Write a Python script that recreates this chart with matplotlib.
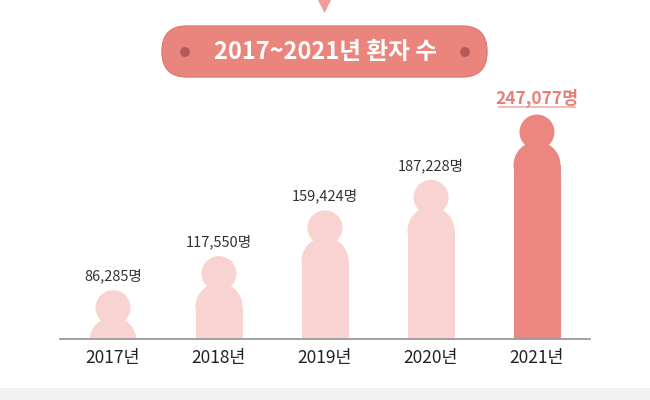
import matplotlib
matplotlib.use("Agg")
import matplotlib.pyplot as plt
from matplotlib.patches import FancyBboxPatch, Polygon, Circle, Rectangle
from matplotlib.transforms import ScaledTranslation

plt.rcParams['font.family'] = ['Noto Sans CJK KR', 'DejaVu Sans']

title = "2017~2021년 환자 수"
years = ["2017년", "2018년", "2019년", "2020년", "2021년"]
patients = [86285, 117550, 159424, 187228, 247077]
value_labels = ["86,285명", "117,550명", "159,424명", "187,228명", "247,077명"]

light = '#f9d3d1'
dark = '#ec8680'

fig = plt.figure(figsize=(6.5, 4), dpi=100)
fig.patch.set_facecolor('white')

# bottom grey strip
fig.add_artist(Rectangle((0, 0), 1, 12 / 400, transform=fig.transFigure,
                         facecolor='#f2f2f2', edgecolor='none'))

# small arrow at the top
fig.add_artist(Polygon([(318 / 650, 1), (331 / 650, 1), (324.5 / 650, 1 - 13 / 400)],
                       closed=True, transform=fig.transFigure,
                       facecolor='#f09d96', edgecolor='none'))

# title pill (pixel coords)
pill = FancyBboxPatch((162, 400 - 77), 325, 51,
                      boxstyle="round,pad=0,rounding_size=25",
                      transform=None, facecolor='#ea857e', edgecolor='#e07a74', lw=1)
fig.add_artist(pill)
for cx in (185, 465):
    fig.add_artist(Circle((cx, 400 - 52), 5, transform=None,
                          facecolor='#b55a58', edgecolor='none'))
fig.text(325 / 650, 1 - 52 / 400, title, ha='center', va='center',
         color='white', fontsize=17, fontweight='bold')

ax = fig.add_axes([60 / 650, 61 / 400, 530 / 650, 239 / 400])
ax.set_xlim(-0.5, 4.5)
ax.set_ylim(41600, 260400)
ax.set_facecolor('none')

colors = [light] * 4 + [dark]
x = list(range(len(years)))
dpi = fig.dpi
head_off = ax.transData + ScaledTranslation(0, -17.5 / dpi, fig.dpi_scale_trans)
body_off = ax.transData + ScaledTranslation(0, -50.5 / dpi, fig.dpi_scale_trans)
neck_off = ax.transData + ScaledTranslation(0, -33 / dpi, fig.dpi_scale_trans)

# body: bar + rounded shoulders
ax.bar(x, [v - 41600 + 100000 for v in patients], bottom=41600 - 100000,
       width=47 / 106, color=colors, transform=body_off, zorder=2)
ax.scatter(x, patients, s=(47 * 72 / dpi) ** 2, c=colors, linewidths=0,
           transform=body_off, zorder=2)
# neck fill
ax.scatter(x, patients, s=(24 * 72 / dpi) ** 2, c=colors, linewidths=0,
           marker='s', transform=neck_off, zorder=2)
# head
ax.scatter(x, patients, s=(35 * 72 / dpi) ** 2, c=colors, linewidths=0,
           transform=head_off, zorder=3)

for i, (v, lab) in enumerate(zip(patients, value_labels)):
    if i == len(patients) - 1:
        ax.annotate(lab, (i, v), xytext=(0, 17 * 72 / dpi), textcoords='offset points',
                    ha='center', va='center', fontsize=12.5, fontweight='bold',
                    color='#e8807a', annotation_clip=False)
        line_off = ax.transData + ScaledTranslation(0, 8 / dpi, fig.dpi_scale_trans)
        ax.plot([i - 0.36, i + 0.36], [v, v], color='#f5bcb7', lw=1.5,
                transform=line_off, clip_on=False)
    else:
        ax.annotate(lab, (i, v), xytext=(0, 14 * 72 / dpi), textcoords='offset points',
                    ha='center', va='center', fontsize=10.5, color='#333333',
                    annotation_clip=False)

for s in ('top', 'left', 'right'):
    ax.spines[s].set_visible(False)
ax.spines['bottom'].set_color('#9a9a9a')
ax.spines['bottom'].set_linewidth(1.3)
ax.spines['bottom'].set_zorder(4)
ax.set_yticks([])
ax.set_xticks(x)
ax.set_xticklabels(years, fontsize=12.5, color='#222222')
ax.tick_params(axis='x', length=0, pad=7)

fig.savefig('out.png', dpi=100, facecolor='white')
